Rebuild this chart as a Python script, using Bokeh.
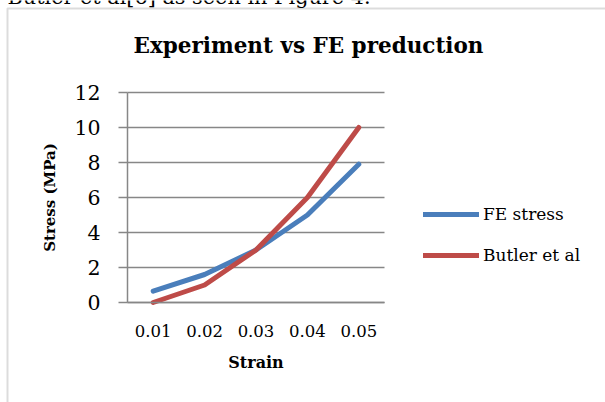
from bokeh.plotting import figure
from bokeh.models import (Range1d, Legend, LegendItem, Label, FixedTicker,
                          BoxAnnotation, Grid)
from bokeh.embed import file_html
from bokeh.resources import INLINE

# ---- data ----
strain = ["0.01", "0.02", "0.03", "0.04", "0.05"]
fe_stress = [0.65, 1.6, 3.0, 5.0, 7.9]
butler = [0.0, 1.0, 3.0, 6.0, 10.0]
y_ticks = [0, 2, 4, 6, 8, 10, 12]

title_text = "Experiment vs FE preduction"
x_label = "Strain"
y_label = "Stress (MPa)"
top_text = "Butler et al[6] as seen in Figure 4."

BLUE = "#4A7EBB"
RED = "#BE4B48"
GRID = "#878787"
SERIF = "DejaVu Serif"

# ---- layout constants (canvas pixels) ----
W, H = 605, 402
PL, PR, PT, PB = 127, 384, 92, 302          # plot-area edges
n = len(strain)
y_max = y_ticks[-1]
xu = (PR - PL) / n                           # px per category
yu = (PB - PT) / y_max                       # px per MPa

x_pos = [i + 0.5 for i in range(n)]          # category centres

p = figure(width=W, height=H, output_backend="svg", toolbar_location=None,
           title=None,
           x_range=Range1d(-PL / xu, (W - PL) / xu),
           y_range=Range1d(-(H - PB) / yu, PB / yu),
           min_border=0, min_border_left=0, min_border_right=0,
           min_border_top=0, min_border_bottom=0)
p.outline_line_color = None
p.background_fill_color = "white"
p.border_fill_color = "white"

# ---- axes drawn at the plot-area edges ----
p.yaxis.fixed_location = 0
p.yaxis.bounds = (0, y_max)
p.yaxis.ticker = FixedTicker(ticks=y_ticks)
p.yaxis.axis_line_color = GRID
p.yaxis.axis_line_width = 1.5
p.yaxis.major_tick_line_color = GRID
p.yaxis.major_tick_line_width = 1.5
p.yaxis.major_tick_out = 9
p.yaxis.major_tick_in = 0
p.yaxis.minor_tick_line_color = None
p.yaxis.major_label_text_font = SERIF
p.yaxis.major_label_text_font_size = "20.5px"
p.yaxis.major_label_text_color = "black"
p.yaxis.major_label_standoff = 18
p.yaxis.axis_label = y_label
p.yaxis.axis_label_text_font = SERIF
p.yaxis.axis_label_text_font_style = "bold"
p.yaxis.axis_label_text_font_size = "15px"
p.yaxis.axis_label_text_color = "black"
p.yaxis.axis_label_standoff = 12

p.xaxis.fixed_location = 0
p.xaxis.bounds = (0, n)
p.xaxis.ticker = FixedTicker(ticks=x_pos)
p.xaxis.major_label_overrides = {x: s for x, s in zip(x_pos, strain)}
p.xaxis.axis_line_color = GRID
p.xaxis.axis_line_width = 1.5
p.xaxis.major_tick_line_color = None
p.xaxis.minor_tick_line_color = None
p.xaxis.major_label_text_font = SERIF
p.xaxis.major_label_text_font_size = "16.5px"
p.xaxis.major_label_text_color = "black"
p.xaxis.major_label_standoff = 16
p.xaxis.axis_label = x_label
p.xaxis.axis_label_text_font = SERIF
p.xaxis.axis_label_text_font_style = "bold"
p.xaxis.axis_label_text_font_size = "16px"
p.xaxis.axis_label_text_color = "black"
p.xaxis.axis_label_standoff = 13

# ---- grid ----
p.xgrid.visible = False
if "cross_bounds" in Grid.properties():
    p.ygrid.ticker = FixedTicker(ticks=y_ticks)
    p.ygrid.bounds = (0, y_max)
    p.ygrid.cross_bounds = (0, n)
    p.ygrid.grid_line_color = GRID
    p.ygrid.grid_line_width = 1.5
else:
    p.ygrid.visible = False
    p.segment(x0=[0] * len(y_ticks), x1=[n] * len(y_ticks), y0=y_ticks, y1=y_ticks,
              line_color=GRID, line_width=1.5)

# ---- series ----
r_fe = p.line(x_pos, fe_stress, line_color=BLUE, line_width=5, line_cap="round", line_join="round")
r_bu = p.line(x_pos, butler, line_color=RED, line_width=5, line_cap="round", line_join="round")

legend = Legend(items=[LegendItem(label="FE stress", renderers=[r_fe]),
                       LegendItem(label="Butler et al", renderers=[r_bu])],
                location=(423, H - 265), orientation="vertical",
                glyph_width=56, glyph_height=20, label_height=20,
                spacing=21, padding=0, margin=0, label_standoff=4,
                label_text_font=SERIF, label_text_font_size="17px",
                label_text_color="black",
                border_line_color=None, background_fill_alpha=0)
p.add_layout(legend, "center")

# ---- chart border (cut off at right / bottom) ----
x_at = lambda px: (px - PL) / xu
y_at = lambda py: (PB - py) / yu
p.add_layout(BoxAnnotation(left=x_at(7), right=x_at(W + 20), top=y_at(8), bottom=y_at(H + 20),
                           fill_alpha=0, line_color="#8C8C8C", line_width=2))

# ---- title ----
p.add_layout(Label(x=308, y=H - 45, x_units="screen", y_units="screen",
                   text=title_text, text_align="center", text_baseline="alphabetic",
                   text_font=SERIF, text_font_style="bold", text_font_size="21.5px",
                   text_color="black"))

# ---- partially visible document text above the chart ----
p.add_layout(Label(x=7, y=H + 4, x_units="screen", y_units="screen",
                   text=top_text, text_align="left", text_baseline="alphabetic",
                   text_font=SERIF, text_font_size="20.8px", text_color="black"))

open("out.html", "w").write(file_html(p, INLINE))
